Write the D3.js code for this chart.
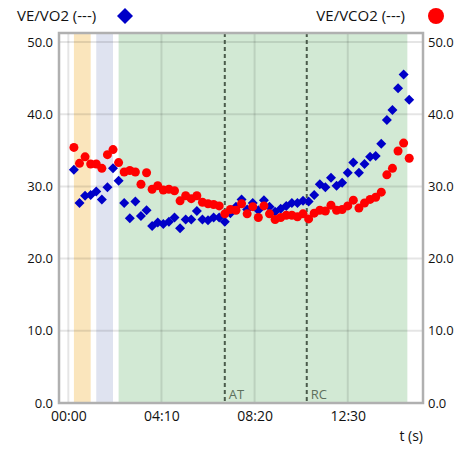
<!DOCTYPE html>
<html>
<head>
<meta charset="utf-8">
<script src="https://cdn.jsdelivr.net/npm/d3@7"></script>
<style>
  body { margin: 0; background: #fff; }
  svg text { font-family: "Open Sans", sans-serif; fill: #111; }
  .grid line { stroke: rgba(0, 0, 0, 0.1); stroke-width: 2px; }
</style>
</head>
<body>
<script>
// time of each sample, seconds
const times = [15, 30, 45, 60, 75, 90, 105, 120, 135, 150, 165, 180, 195, 210, 225,
  240, 255, 270, 285, 300, 315, 330, 345, 360, 375, 390, 405, 420, 435, 450,
  465, 480, 495, 510, 525, 540, 555, 570, 585, 600, 615, 630, 645, 660, 675,
  690, 705, 720, 735, 750, 765, 780, 795, 810, 825, 840, 855, 870, 885, 900, 915]

const veVo2 = [32.3, 27.7, 28.7, 28.8, 29.3, 28.2, 29.9, 32.5, 30.8, 27.7, 25.6, 27.9, 25.9, 26.7, 24.5,
  25.0, 24.8, 25.1, 25.7, 24.2, 25.4, 25.4, 26.6, 25.4, 25.3, 25.7, 25.7, 25.1, 26.3, 27.2,
  28.2, 26.8, 27.7, 26.7, 28.1, 27.2, 26.5, 26.9, 27.3, 27.7, 27.7, 28.0, 27.9, 28.8, 30.3,
  29.9, 31.2, 30.1, 30.5, 31.9, 33.3, 31.9, 33.1, 34.1, 34.2, 35.9, 39.2, 40.6, 43.6, 45.5, 42.0]

const veVco2 = [35.4, 33.2, 34.1, 33.1, 33.1, 32.5, 34.4, 35.1, 33.3, 32.0, 32.2, 32.0, 30.3, 31.9, 29.6,
  30.1, 29.5, 29.6, 29.4, 28.0, 28.7, 28.3, 28.7, 27.8, 27.6, 27.5, 27.3, 26.2, 26.8, 26.7,
  27.6, 26.2, 27.2, 25.7, 27.3, 26.2, 25.4, 25.7, 26.0, 26.0, 25.8, 26.2, 25.5, 26.3, 26.7,
  26.6, 27.4, 26.7, 26.8, 27.3, 28.1, 27.0, 27.7, 28.2, 28.5, 29.2, 31.6, 32.5, 34.9, 36.0, 33.9]

// shaded phases [start, end] in seconds
const bands = [
  { from: 15, to: 60, color: '#fae5bc' },
  { from: 75, to: 120, color: '#dfe3f0' },
  { from: 135, to: 910, color: '#d2e9d4' },
]
const markers = [{ t: 420, label: 'AT' }, { t: 640, label: 'RC' }]
const xTicks = [0, 250, 500, 750]
const yTicks = [0, 10, 20, 30, 40, 50]

const width = 472
const height = 451
const m = { left: 59, right: 423, top: 33, bottom: 403 }

const svg = d3.select('body').append('svg')
  .attr('width', width)
  .attr('height', height)

const x = d3.scaleLinear().domain([-25, 952]).range([m.left, m.right])
const y = d3.scaleLinear().domain([0, 51.25]).range([m.bottom, m.top])

function mmss(s) {
  const mm = Math.floor(s / 60), ss = s % 60
  return String(mm).padStart(2, '0') + ':' + String(ss).padStart(2, '0')
}

// bands
svg.append('g').selectAll('rect')
  .data(bands)
  .enter().append('rect')
    .attr('x', d => x(d.from))
    .attr('width', d => x(d.to) - x(d.from))
    .attr('y', m.top)
    .attr('height', m.bottom - m.top)
    .attr('fill', d => d.color)

// grid
const grid = svg.append('g').attr('class', 'grid')
grid.selectAll('line.h')
  .data(yTicks.slice(1))
  .enter().append('line')
    .attr('x1', m.left).attr('x2', m.right)
    .attr('y1', d => y(d)).attr('y2', d => y(d))
grid.selectAll('line.v')
  .data(xTicks)
  .enter().append('line')
    .attr('x1', d => x(d)).attr('x2', d => x(d))
    .attr('y1', m.top).attr('y2', m.bottom)

// AT / RC
const mk = svg.append('g').selectAll('g')
  .data(markers)
  .enter().append('g')
mk.append('line')
  .attr('x1', d => x(d.t)).attr('x2', d => x(d.t))
  .attr('y1', m.top).attr('y2', m.bottom)
  .attr('stroke', '#4b5b4b')
  .attr('stroke-width', 2)
  .attr('stroke-dasharray', '4,3')
mk.append('text')
  .attr('x', d => x(d.t) + 4)
  .attr('y', m.bottom - 4)
  .attr('font-size', 13)
  .style('fill', '#5d705d')
  .text(d => d.label)

// frame
svg.append('rect')
  .attr('x', m.left).attr('y', m.top)
  .attr('width', m.right - m.left).attr('height', m.bottom - m.top)
  .attr('fill', 'none')
  .attr('stroke', '#b0b0b0')
  .attr('stroke-width', 2.5)

// axes (labels only, frame drawn above)
const yLeft = d3.axisLeft(y).tickValues(yTicks).tickFormat(d3.format('.1f')).tickSize(0).tickPadding(6)
const yRight = d3.axisRight(y).tickValues(yTicks).tickFormat(d3.format('.1f')).tickSize(0).tickPadding(5)
const xAxis = d3.axisBottom(x).tickValues(xTicks).tickFormat(mmss).tickSize(0).tickPadding(8)

function styleAxis(g, size) {
  g.select('.domain').remove()
  g.selectAll('text').attr('font-size', size).style('fill', '#111')
  g.attr('font-family', null)
}
svg.append('g').attr('transform', `translate(${m.left},0)`).call(yLeft).call(g => styleAxis(g, 13))
svg.append('g').attr('transform', `translate(${m.right},0)`).call(yRight).call(g => styleAxis(g, 13))
svg.append('g').attr('transform', `translate(0,${m.bottom})`).call(xAxis).call(g => styleAxis(g, 14))

svg.append('text')
  .attr('x', m.right)
  .attr('y', 441)
  .attr('text-anchor', 'end')
  .attr('font-size', 14)
  .text('t (s)')

// points
const diamond = r => `M0,${-r}L${r},0L0,${r}L${-r},0Z`

svg.append('g').selectAll('path')
  .data(times)
  .enter().append('path')
    .attr('d', diamond(5))
    .attr('transform', (d, i) => `translate(${x(d)},${y(veVo2[i])})`)
    .attr('fill', '#0000c8')

svg.append('g').selectAll('circle')
  .data(times)
  .enter().append('circle')
    .attr('cx', d => x(d))
    .attr('cy', (d, i) => y(veVco2[i]))
    .attr('r', 4.5)
    .attr('fill', '#ff0000')

// legend
svg.append('text').attr('x', 17).attr('y', 21).attr('font-size', 15).text('VE/VO2 (---)')
svg.append('path').attr('d', diamond(8)).attr('transform', 'translate(125,16)').attr('fill', '#0000c8')
svg.append('text').attr('x', 405).attr('y', 21).attr('font-size', 15).attr('text-anchor', 'end').text('VE/VCO2 (---)')
svg.append('circle').attr('cx', 436).attr('cy', 16).attr('r', 8).attr('fill', '#ff0000')
</script>
</body>
</html>
